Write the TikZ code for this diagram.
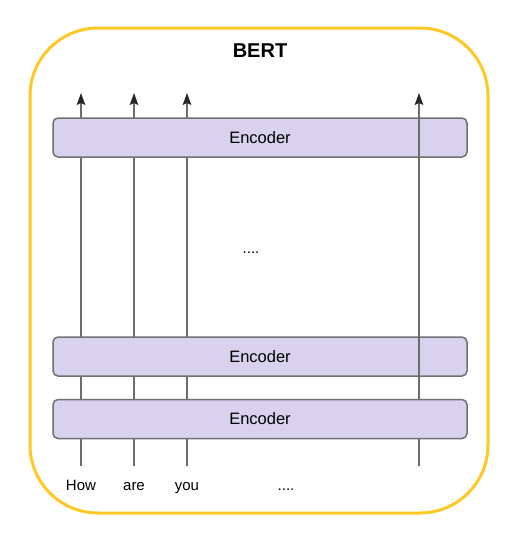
\documentclass[tikz,border=0pt]{standalone}
\usepackage{fontspec}
\setmainfont{Liberation Sans}
\usetikzlibrary{arrows.meta}
\definecolor{bertyellow}{RGB}{255,200,36}
\definecolor{enclilac}{RGB}{217,210,238}
\definecolor{encgray}{RGB}{112,112,112}
\definecolor{linegray}{RGB}{108,108,108}
\tikzset{
  encoderbox/.style={draw=encgray, fill=enclilac, line width=1.5pt, rounded corners=5pt,
    minimum width=414pt, minimum height=39pt, inner sep=0pt, font=\fontsize{16.5}{19}\selectfont},
  tokenlabel/.style={anchor=base, inner sep=0pt, font=\fontsize{15}{18}\selectfont},
  flowline/.style={draw=linegray, line width=1.5pt, -{Stealth[length=12pt,width=8.5pt,inset=2pt,color=black!85]}},
}
\begin{document}
\begin{tikzpicture}[x=1pt,y=-1pt]
  \useasboundingbox (0,0) rectangle (506,536);
  \draw[bertyellow, line width=3pt, rounded corners=68pt] (30,28) rectangle (488,513);
  \node[font=\bfseries\fontsize{20}{24}\selectfont] (bert) at (260,51) {BERT};
  % tokens at the bottom
  \node[tokenlabel] (how) at (81,490) {How};
  \node[tokenlabel] (are) at (134,490) {are};
  \node[tokenlabel] (you) at (187,490) {you};
  \node[tokenlabel] (more) at (286,490) {....};
  \node[tokenlabel] (skip) at (251,253) {....};
  \foreach \tok/\x in {how/81,are/134,you/187}
    \coordinate (out-\tok) at (\x,93);
  \coordinate (in-last) at (419,466);
  \coordinate (out-last) at (419,93);
  \foreach \tok in {how,are,you}
    \draw[flowline, shorten <=24pt] (\tok.base) -- (out-\tok);
  % encoder stack
  \node[encoderbox] (enctop) at (260,137.5) {Encoder};
  \node[encoderbox] (encmid) at (260,356.5) {Encoder};
  \draw[flowline] (in-last) -- (out-last);
  \node[encoderbox] (encbot) at (260,419) {Encoder};
\end{tikzpicture}
\end{document}
